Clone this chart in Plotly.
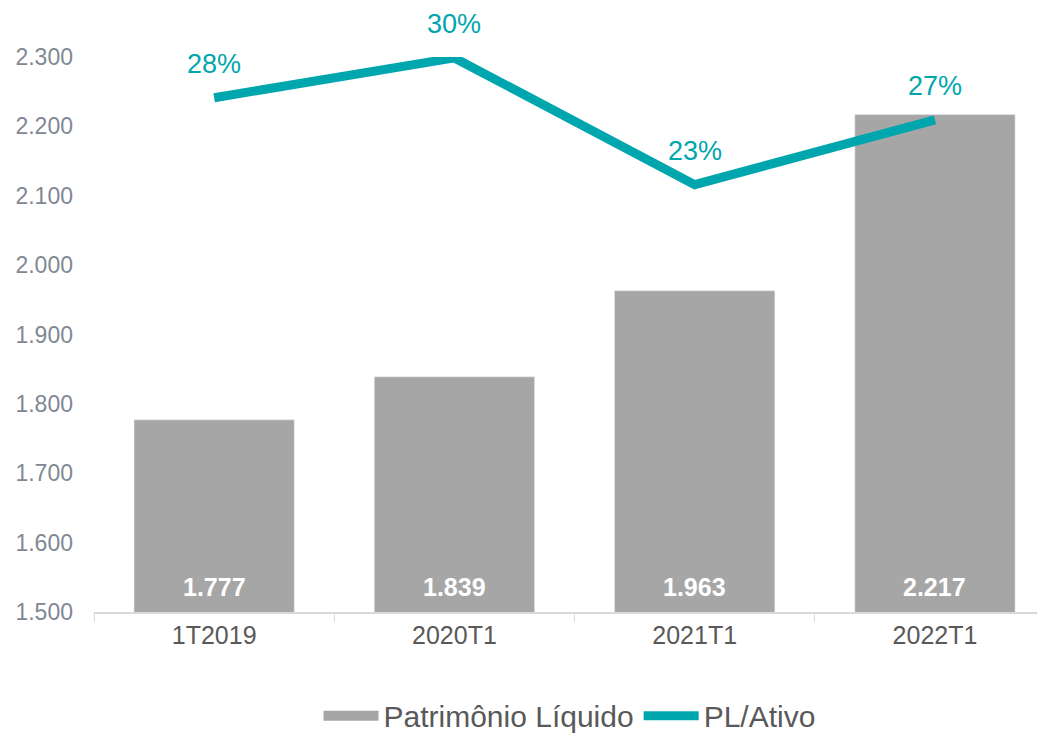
import plotly.graph_objects as go

categorias = ["1T2019", "2020T1", "2021T1", "2022T1"]
patrimonio = [1777, 1839, 1963, 2217]
pl_ativo = [0.278, 0.2995, 0.231, 0.266]

cinza = "#A6A6A6"
teal = "#00A6AE"

fig = go.Figure()
fig.add_trace(go.Bar(x=categorias, y=patrimonio, name="Patrimônio Líquido",
                     marker_color=cinza, width=0.667, showlegend=False))
# legend-only swatch so the bar entry looks like a wide block
fig.add_trace(go.Scatter(x=[None], y=[None], name="Patrimônio Líquido", mode="lines",
                         line=dict(color=cinza, width=15)))
fig.add_trace(go.Scatter(x=categorias, y=pl_ativo, name="PL/Ativo", yaxis="y2",
                         mode="lines", line=dict(color=teal, width=9)))

# bar value labels at the base of each bar
for c, v in zip(categorias, patrimonio):
    fig.add_annotation(x=c, y=1500, text="<b>{:,}</b>".format(v).replace(",", "."),
                       showarrow=False, yanchor="bottom", yshift=9,
                       font=dict(color="white", size=25, family="Liberation Sans"))

for c, v in zip(categorias, pl_ativo):
    fig.add_annotation(x=c, y=v, yref="y2", text="{:.0%}".format(v), showarrow=False,
                       yshift=34, font=dict(color=teal, size=27, family="Liberation Sans"))

# page body has an 8px margin, so the figure is drawn 8px smaller
fig.update_layout(
    width=1037, height=729,
    margin=dict(l=86, r=0, t=49, b=125, autoexpand=False),
    plot_bgcolor="white", paper_bgcolor="white",
    separators=",.",
    font=dict(family="Liberation Sans, Arial", color="#595959"),
    xaxis=dict(range=[-0.5, 3.458], showline=True, linecolor="#D9D9D9", linewidth=1.5,
               ticks="outside", tickson="boundaries", tickcolor="#D9D9D9", ticklen=8,
               tickfont=dict(size=25, color="#595959"), showgrid=False, automargin=False),
    yaxis=dict(range=[1500, 2300], dtick=100, tickformat=",", showgrid=False,
               zeroline=False, tickfont=dict(size=23, color="#7F8893"),
               ticklabelstandoff=20, automargin=False),
    yaxis2=dict(range=[0, 0.30], overlaying="y", side="right", visible=False),
    legend=dict(orientation="h", x=0.5, xanchor="center", y=-0.187, yanchor="middle",
                font=dict(size=30, color="#595959"), itemwidth=55, tracegroupgap=0),
    showlegend=True,
)

fig.write_html("out.html")
